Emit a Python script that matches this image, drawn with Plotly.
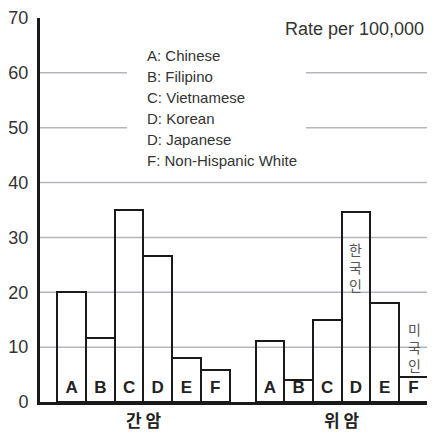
import plotly.graph_objects as go

# ---- data ----
letters = ["A", "B", "C", "D", "E", "F"]
legend_lines = ["A: Chinese", "B: Filipino", "C: Vietnamese", "D: Korean",
                "D: Japanese", "F: Non-Hispanic White"]
groups = ["간 암", "위 암"]
liver = [20, 11.6, 35, 26.6, 8.1, 5.9]
stomach = [11.1, 4.1, 15, 34.7, 18, 4.5]
y_ticks = [0, 10, 20, 30, 40, 50, 60, 70]
unit_label = "Rate per 100,000"

# ---- layout helpers (screen pixels; page has an 8px body margin) ----
OFF = 8
W, H = 435 - OFF, 434 - OFF
PL, PR, PT, PB = 40, 435, 16, 402          # plot area in screen pixels
ML, MR, MT, MB = PL - OFF, 435 - PR, PT - OFF, 434 - PB
PW, PH = PR - PL, PB - PT
GAP = 0.906
def px_x(px):
    return (px - PL) / PW
def px_y(py):
    return (PB - py) / PH

series = [liver, stomach]
xs_all, ys_all, lbl_all = [], [], []
for g, vals in enumerate(series):
    off = g * (len(letters) + GAP)
    for i, v in enumerate(vals):
        xs_all.append(off + i)
        ys_all.append(v)
        lbl_all.append(letters[i])

fig = go.Figure()
fig.add_trace(go.Bar(
    x=xs_all, y=ys_all, width=1,
    marker=dict(color="rgba(255,255,255,0)", line=dict(color="#1a1a1a", width=2)),
    hoverinfo="skip", showlegend=False))
fig.add_trace(go.Scatter(
    x=xs_all, y=[2.5] * len(xs_all), mode="text", text=lbl_all,
    textfont=dict(family="Liberation Sans", size=17, color="#222"),
    texttemplate="<b>%{text}</b>", hoverinfo="skip", showlegend=False))

shapes = []
for t in y_ticks[1:-1]:
    shapes.append(dict(type="line", xref="paper", yref="y", x0=0, x1=px_x(433),
                       y0=t, y1=t, line=dict(color="#b4b6bc", width=1.5), layer="below"))
# white box behind the key
shapes.append(dict(type="rect", xref="paper", yref="paper",
                   x0=px_x(127), x1=px_x(306), y0=px_y(172), y1=px_y(42),
                   fillcolor="white", line=dict(width=0), layer="below"))

annotations = []
for k, line in enumerate(legend_lines):
    annotations.append(dict(xref="paper", yref="paper", x=px_x(145), y=px_y(54 + 21 * k),
                            xanchor="left", yanchor="middle", text=line, showarrow=False,
                            font=dict(family="Liberation Sans", size=15, color="#333")))
annotations.append(dict(xref="paper", yref="paper", x=px_x(354), y=px_y(27),
                        xanchor="center", yanchor="middle", text=unit_label, showarrow=False,
                        font=dict(family="Liberation Sans", size=18, color="#333")))
for g, name in enumerate(groups):
    cx = g * (len(letters) + GAP) + (len(letters) - 1) / 2
    annotations.append(dict(xref="x", yref="paper", x=cx, y=px_y(420),
                            xanchor="center", yanchor="middle", text="<b>" + name + "</b>",
                            showarrow=False,
                            font=dict(family="Noto Sans CJK KR", size=17, color="#222")))
off2 = len(letters) + GAP
annotations.append(dict(xref="x", yref="paper", x=off2 + 3, y=px_y(266),
                        xanchor="center", yanchor="middle", text="한<br>국<br>인",
                        showarrow=False,
                        font=dict(family="Noto Sans CJK KR", size=14, color="#555")))
annotations.append(dict(xref="x", yref="paper", x=off2 + 5 + 0.05, y=px_y(347),
                        xanchor="center", yanchor="middle", text="미<br>국<br>인",
                        showarrow=False,
                        font=dict(family="Noto Sans CJK KR", size=14, color="#555")))

fig.update_layout(
    width=W, height=H,
    margin=dict(l=ML, r=MR, t=MT, b=MB),
    paper_bgcolor="white", plot_bgcolor="white",
    shapes=shapes, annotations=annotations, bargap=0,
    xaxis=dict(range=[-1.103, 12.66], showgrid=False, zeroline=False,
               showticklabels=False, showline=True, linecolor="#1a1a1a", linewidth=2.5),
    yaxis=dict(range=[0, 70], tickvals=y_ticks, showgrid=False, zeroline=False,
               showline=True, linecolor="#1a1a1a", linewidth=3, ticks="",
               ticklabelstandoff=5, ticklabeloverflow="allow",
               tickfont=dict(family="Liberation Sans", size=18, color="#333")),
)
fig.write_html("out.html")
